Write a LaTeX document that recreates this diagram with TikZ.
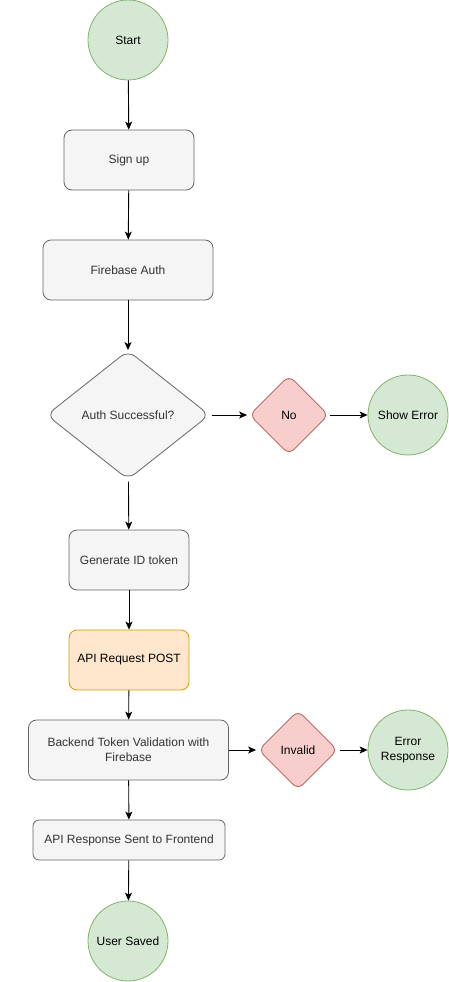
\documentclass[tikz,border=0pt]{standalone}
\usepackage{fontspec}
\setmainfont{Liberation Sans}
\usetikzlibrary{shapes.geometric,arrows.meta}
\definecolor{grayfill}{HTML}{F5F5F5}
\definecolor{graystroke}{HTML}{666666}
\definecolor{graytext}{HTML}{333333}
\definecolor{greenfill}{HTML}{D5E8D4}
\definecolor{greenstroke}{HTML}{82B366}
\definecolor{redfill}{HTML}{F8CECC}
\definecolor{redstroke}{HTML}{B85450}
\definecolor{orangefill}{HTML}{FFE6CC}
\definecolor{orangestroke}{HTML}{D79B00}
\tikzset{
  x=1pt, y=-1pt,
  base/.style={font=\fontsize{12}{15}\selectfont, align=center, inner sep=0pt, line width=0.8pt},
  graybox/.style={base, draw=graystroke, fill=grayfill, text=graytext, rectangle, rounded corners=8pt},
  orangebox/.style={base, draw=orangestroke, fill=orangefill, text=black, rectangle, rounded corners=8pt},
  greencirc/.style={base, draw=greenstroke, fill=greenfill, text=black, circle, minimum size=80pt},
  reddia/.style={base, draw=redstroke, fill=redfill, text=black, diamond, minimum width=79pt, minimum height=79pt, rounded corners=7pt},
  graydia/.style={base, draw=graystroke, fill=grayfill, text=graytext, diamond, aspect=1.27, minimum width=163pt, minimum height=129pt, rounded corners=9pt},
  conn/.style={draw=black, line width=0.9pt, -{Stealth[length=8pt,width=7pt,inset=2pt]}},
}
\begin{document}
\begin{tikzpicture}
\useasboundingbox (0,0) rectangle (449,982);
\node[greencirc] (start) at (128,40) {Start};
\node[graybox, minimum width=130pt, minimum height=60pt] (signup) at (129,160) {Sign up};
\node[graybox, minimum width=170pt, minimum height=60pt] (fbauth) at (128,270) {Firebase Auth};
\node[graydia] (authok) at (128,415) {Auth Successful?};
\node[reddia] (no) at (289,415) {No};
\node[greencirc] (showerr) at (408,415) {Show Error};
\node[graybox, minimum width=120pt, minimum height=60pt] (genid) at (129,560) {Generate ID token};
\node[orangebox, minimum width=120pt, minimum height=60pt] (apireq) at (129,660) {API Request POST};
\node[graybox, minimum width=200pt, minimum height=60pt] (backend) at (128.5,750) {Backend Token Validation with\\Firebase};
\node[reddia] (invalid) at (298,750) {Invalid};
\node[greencirc] (errresp) at (408,750) {Error\\Response};
\node[graybox, rounded corners=6pt, minimum width=192pt, minimum height=40pt] (apiresp) at (129,840) {API Response Sent to Frontend};
\node[greencirc] (saved) at (128,941) {User Saved};

\draw[conn] (start) -- (signup);
\draw[conn] (signup) -- (fbauth);
\draw[conn] (fbauth) -- (authok);
\draw[conn, shorten <=2pt, shorten >=2pt] (authok) -- (no);
\draw[conn, shorten <=1pt] (no) -- (showerr);
\draw[conn, shorten <=2pt] (authok) -- (genid);
\draw[conn] (genid) -- (apireq);
\draw[conn] (apireq) -- (backend);
\draw[conn, shorten >=2pt] (backend) -- (invalid);
\draw[conn, shorten <=2pt] (invalid) -- (errresp);
\draw[conn] (backend) -- (apiresp);
\draw[conn] (apiresp) -- (saved);
\end{tikzpicture}
\end{document}
